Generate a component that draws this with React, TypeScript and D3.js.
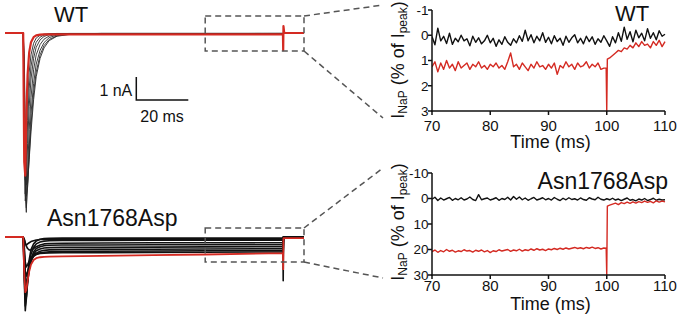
import React from 'react';
import * as d3 from 'd3';

// ---------------- DATA ----------------
// Left panels: whole-cell current traces (inward current in nA, positive = inward)
const wtTimes = [-7, 0, 0.4, 0.8, 1.2, 1.7, 2.3, 3, 4, 5, 6.5, 8, 10, 13, 18, 30, 99.9, 100, 100.1, 100.4, 108];
const wtTraceA = [0, 0, 4.5, 6.4, 4.6, 2.9, 1.7, 0.95, 0.45, 0.22, 0.1, 0.05, 0.03, 0.02, 0.02, 0.02, 0.02, 0.02, 0.02, 0, 0];
const wtTraceB = [0, 0, 3.8, 7.0, 5.6, 3.8, 2.4, 1.45, 0.75, 0.4, 0.18, 0.09, 0.05, 0.03, 0.02, 0.02, 0.02, 0.02, 0.02, 0, 0];
const wtTraceC = [0, 0, 3.0, 7.3, 6.6, 4.8, 3.2, 2.0, 1.1, 0.62, 0.3, 0.15, 0.07, 0.04, 0.03, 0.02, 0.02, 0.02, 0.02, 0, 0];
const wtTraceD = [0, 0, 2.4, 7.0, 7.8, 6.0, 4.2, 2.8, 1.6, 0.95, 0.5, 0.27, 0.13, 0.06, 0.03, 0.02, 0.02, 0.02, 0.02, 0, 0];
const wtTraceE = [0, 0, 1.8, 6.2, 7.6, 6.6, 5.0, 3.5, 2.2, 1.35, 0.75, 0.42, 0.2, 0.09, 0.04, 0.02, 0.02, 0.02, 0.02, 0, 0];
const wtTraceF = [0, 0, 1.3, 5.2, 7.1, 6.7, 5.4, 4.0, 2.6, 1.7, 0.95, 0.55, 0.28, 0.12, 0.05, 0.03, 0.02, 0.02, 0.02, 0, 0];
const wtTraceG = [0, 0, 0.9, 4.2, 6.6, 6.5, 5.5, 4.3, 2.9, 1.9, 1.1, 0.65, 0.33, 0.14, 0.06, 0.03, 0.02, 0.02, 0.02, 0, 0];
const wtTraceRed = [0, 0, 5.6, 6.2, 3.6, 1.8, 0.85, 0.4, 0.18, 0.1, 0.07, 0.06, 0.06, 0.06, 0.06, 0.06, 0.06, 0.75, -0.3, 0, 0];
const wtBlackTraces = [wtTraceA, wtTraceB, wtTraceC, wtTraceD, wtTraceE, wtTraceF, wtTraceG];

const mutTimes = [-7, 0, 0.4, 0.8, 1.2, 1.7, 2.3, 3, 4, 5, 6.5, 8, 10, 15, 30, 50, 70, 99.9, 100, 100.1, 100.4, 108];
const mutTrace1 = [0, 0, 1.8, 3.2, 2.6, 1.7, 1.0, 0.55, 0.3, 0.18, 0.1, 0.07, 0.06, 0.05, 0.05, 0.05, 0.05, 0.05, 1.9, 0.02, 0, 0];
const mutTrace2 = [0, 0, 1.5, 3.0, 2.7, 1.9, 1.2, 0.75, 0.45, 0.3, 0.22, 0.18, 0.16, 0.15, 0.15, 0.14, 0.14, 0.14, 0.6, 0.02, 0, 0];
const mutTrace3 = [0, 0, 0.1, 0.25, 0.4, 0.5, 0.56, 0.57, 0.5, 0.42, 0.35, 0.3, 0.28, 0.27, 0.26, 0.25, 0.25, 0.25, 0.25, 0, 0, 0];
const mutTrace4 = [0, 0, 1.2, 2.7, 2.6, 2.0, 1.4, 0.95, 0.65, 0.5, 0.42, 0.38, 0.36, 0.35, 0.35, 0.34, 0.34, 0.33, 0.5, 0, 0, 0];
const mutTrace5 = [0, 0, 1.0, 2.3, 2.3, 1.9, 1.4, 1.05, 0.75, 0.6, 0.52, 0.48, 0.46, 0.45, 0.45, 0.44, 0.43, 0.42, 0.6, 0, 0, 0];
const mutTrace6 = [0, 0, 0.8, 1.9, 2.0, 1.7, 1.35, 1.05, 0.82, 0.7, 0.62, 0.58, 0.56, 0.55, 0.54, 0.53, 0.52, 0.51, 0.7, 0, 0, 0];
const mutTrace7 = [0, 0, 0.6, 1.5, 1.7, 1.5, 1.25, 1.0, 0.84, 0.75, 0.69, 0.66, 0.64, 0.63, 0.62, 0.61, 0.6, 0.59, 0.8, 0, 0, 0];
const mutTrace8 = [0, 0, 0.4, 1.1, 1.3, 1.2, 1.05, 0.92, 0.82, 0.76, 0.72, 0.7, 0.69, 0.68, 0.68, 0.67, 0.66, 0.65, 0.9, 0, 0, 0];
const mutTrace9 = [0, 0, 0.1, 0.3, 0.35, 0.3, 0.25, 0.2, 0.16, 0.13, 0.11, 0.1, 0.1, 0.1, 0.1, 0.1, 0.1, 0.1, 0.1, 0, 0, 0];
const mutTraceRed = [0, 0, 1.6, 2.4, 2.3, 1.9, 1.5, 1.2, 1.0, 0.92, 0.88, 0.86, 0.85, 0.84, 0.82, 0.79, 0.76, 0.7, 1.4, 0.05, 0.05, 0.05];
const mutBlackTraces = [mutTrace1, mutTrace2, mutTrace3, mutTrace4, mutTrace5, mutTrace6, mutTrace7, mutTrace8, mutTrace9];

// Right panels: persistent current, % of peak, sampled every 0.5 ms from 70 to 110 ms
const zoomStart = 70;
const zoomStep = 0.5;
const wtZoomBlack = [
  0.05, 0.38, -0.28, 0.22, 0.04, 0.33, -0.08, 0.36, 0.12, 0.26,
  0.0, 0.22, 0.14, 0.42, 0.04, 0.28, 0.1, 0.34, 0.22, 0.0,
  0.3, 0.12, 0.44, 0.18, 0.36, 0.06, 0.28, 0.4, 0.14, 0.3,
  0.02, 0.24, -0.2, 0.22, -0.02, 0.3, 0.04, 0.22, -0.1, 0.28,
  0.08, 0.34, 0.02, 0.25, 0.12, 0.4, 0.04, 0.28, 0.1, -0.02,
  0.3, 0.12, 0.34, 0.04, 0.25, 0.06, 0.36, 0.14, 0.28, 0.02,
  0.22, 0.44, 0.06, 0.3, -0.1, 0.24, -0.32, 0.16, -0.14, 0.26,
  -0.2, 0.1, -0.08, 0.22, -0.26, 0.12, -0.1, 0.18, -0.18, 0.04,
  -0.04,
];
const wtZoomRed = [
  1.25, 1.05, 1.45, 1.1, 1.35, 1.0, 1.3, 1.15, 1.4, 1.05,
  1.3, 1.2, 1.1, 1.35, 1.15, 1.25, 1.05, 1.3, 1.2, 1.35,
  1.15, 1.25, 1.1, 1.3, 1.2, 1.35, 1.05, 0.7, 1.25, 1.15,
  1.35, 1.1, 1.25, 1.4, 1.15, 1.3, 1.05, 1.25, 1.2, 1.35,
  1.15, 1.3, 1.1, 1.55, 1.2, 1.3, 1.05, 1.25, 1.15, 1.35,
  1.1, 1.25, 1.2, 1.05, 1.3, 1.15, 1.25, 1.1, 1.35, 1.3,
  3.0, 0.9, 0.8, 0.7, 0.6, 0.65, 0.5, 0.55, 0.4, 0.5,
  0.3, 0.45, 0.25, 0.4, 0.35, 0.5, 0.25, 0.4, 0.2, 0.45,
  0.25,
];
const wtRedEdgeTimes = [99.9, 100.1];
const wtRedEdgeValues = [1.3, 0.95];

const mutZoomBlack = [
  0.3, -0.5, 0.8, -0.2, 0.6, 0.1, -0.4, 0.7, 0.0, 0.5,
  -0.3, 0.6, 0.2, -0.6, 0.4, 0.8, -1.5, 0.5, 0.1, -0.2,
  0.6, 0.2, -0.3, 0.7, 0.0, 0.4, -0.5, 0.6, -0.8, 0.3,
  -0.6, 0.5, -0.2, 0.7, 0.1, -0.4, 0.6, 0.2, -0.3, 0.5,
  0.0, 0.6, -0.4, 0.3, 0.8, -0.1, 0.5, -0.3, 0.4, 0.1,
  0.6, -0.2, 0.4, 0.7, -0.3, 0.2, 0.5, -0.5, 0.3, 0.6,
  0.1, 0.5, -0.1, 0.6, 0.2, 0.8, 0.3, -0.2, 0.7, 0.4,
  0.9, 0.2, 0.6, 0.0, 0.8, 0.4, -0.1, 0.7, 0.3, 0.6,
  0.5,
];
const mutZoomRed = [
  20.8, 20.2, 21.1, 20.4, 20.9, 20.0, 20.7, 20.3, 21.0, 20.5,
  20.8, 20.1, 20.6, 20.4, 21.0, 20.3, 20.7, 20.2, 20.9, 20.4,
  21.2, 20.5, 20.8, 20.1, 20.6, 20.3, 20.0, 20.7, 20.2, 20.5,
  19.9, 20.6, 20.1, 20.4, 19.8, 20.3, 19.7, 20.2, 19.9, 20.4,
  19.8, 20.1, 19.6, 20.0, 19.5, 19.9, 19.4, 19.8, 19.5, 19.2,
  19.6, 19.3, 19.7, 19.2, 19.5, 19.1, 19.6, 19.3, 19.8, 19.4,
  30.0, 2.6, 2.2, 1.8, 2.4, 1.6, 2.0, 1.4, 1.9, 1.3,
  1.8, 1.2, 1.6, 1.0, 1.5, 1.1, 1.7, 0.9, 1.4, 1.0,
  1.3,
];
const mutRedEdgeTimes = [99.9, 100.1];
const mutRedEdgeValues = [19.5, 3.0];

const timeTicks = [70, 80, 90, 100, 110];
const wtYTicks = [-1, 0, 1, 2, 3];
const mutYTicks = [-10, 0, 10, 20, 30];

// ---------------- STYLE / LAYOUT ----------------
const RED = '#d42a22';
const FONT = '"Liberation Sans", Arial, Helvetica, sans-serif';

const xL = d3.scaleLinear().domain([-7, 108]).range([5, 304]);
const yWT = d3.scaleLinear().domain([0, 8]).range([33, 217]);
const yMut = d3.scaleLinear().domain([0, 8]).range([237, 421]);

const xR = d3.scaleLinear().domain([70, 110]).range([432, 665]);
const yRT = d3.scaleLinear().domain([-1, 3]).range([10, 111]);
const yRB = d3.scaleLinear().domain([-10, 30]).range([173, 275]);

type Pt = [number, number];

function pairs(times: number[], vals: number[]): Pt[] {
  return times.map((t, i) => [t, vals[i]] as Pt);
}

function zoomSeries(vals: number[], edgeT: number[] = [], edgeV: number[] = []): Pt[] {
  const pts: Pt[] = vals.map((v, i) => [zoomStart + i * zoomStep, v] as Pt);
  edgeT.forEach((t, i) => pts.push([t, edgeV[i]]));
  pts.sort((a, b) => a[0] - b[0]);
  return pts;
}

function ZoomAxes({ y, ticks, labelBase, titleY, ylabelCY }: { y: d3.ScaleLinear<number, number>; ticks: number[]; labelBase: number; titleY: number; ylabelCY: number }) {
  const [y0, y1] = y.range();
  const x0 = xR.range()[0];
  const x1 = xR.range()[1];
  return (
    <g fontFamily={FONT} fill="#111">
      <line x1={x0} x2={x0} y1={y0} y2={y1 + 0.75} stroke="#111" strokeWidth={1.5} />
      <line x1={x0 - 0.75} x2={x1} y1={y1} y2={y1} stroke="#111" strokeWidth={1.5} />
      {ticks.map((t) => (
        <g key={'y' + t}>
          <line x1={x0 - 4} x2={x0} y1={y(t)} y2={y(t)} stroke="#111" strokeWidth={1.5} />
          <text x={x0 - 3.5} y={y(t)} dy="0.36em" textAnchor="end" fontSize={13.5}>{t}</text>
        </g>
      ))}
      {timeTicks.map((t) => (
        <g key={'x' + t}>
          <line x1={xR(t)} x2={xR(t)} y1={y1} y2={y1 + 4} stroke="#111" strokeWidth={1.5} />
          <text x={xR(t)} y={labelBase} textAnchor="middle" fontSize={15}>{t}</text>
        </g>
      ))}
      <text x={(x0 + x1) / 2 + 2} y={titleY} textAnchor="middle" fontSize={18}>Time (ms)</text>
      <text transform={`translate(404,${ylabelCY}) rotate(-90)`} textAnchor="middle" fontSize={18}>
        I<tspan fontSize={12} dy={3}>NaP</tspan>
        <tspan dy={-3}> (% of I</tspan>
        <tspan fontSize={12} dy={3}>peak</tspan>
        <tspan dy={-3}>)</tspan>
      </text>
    </g>
  );
}

export default function App() {
  const lineWT = d3.line<Pt>().x((d) => xL(d[0])).y((d) => yWT(d[1]));
  const lineMut = d3.line<Pt>().x((d) => xL(d[0])).y((d) => yMut(d[1]));
  const lineRT = d3.line<Pt>().x((d) => xR(d[0])).y((d) => yRT(d[1]));
  const lineRB = d3.line<Pt>().x((d) => xR(d[0])).y((d) => yRB(d[1]));

  const box1 = { x0: xL(70), x1: xL(108), y0: 16, y1: 51 };
  const box2 = { x0: xL(70), x1: xL(108), y0: 228, y1: 262 };
  const dash = { stroke: '#555', strokeWidth: 1.5, strokeDasharray: '6 4', fill: 'none' };

  // scale bar
  const sbT = 43.5;
  const sbI = 1.91;
  const sbX = xL(sbT);
  const sbX2 = xL(sbT + 20);
  const sbYTop = yWT(sbI);
  const sbYBot = yWT(sbI + 1);

  return (
    <div style={{ position: 'absolute', left: 0, top: 0, width: 680, height: 318, background: '#fff' }}>
      <svg width={680} height={318} viewBox="0 0 680 318" style={{ display: 'block' }}>
        <defs>
          <clipPath id="clipRT">
            <rect x={xR(70)} y={yRT(-1) - 2} width={xR(110) - xR(70) + 2} height={yRT(3) - yRT(-1) + 2} />
          </clipPath>
          <clipPath id="clipRB">
            <rect x={xR(70)} y={yRB(-10) - 2} width={xR(110) - xR(70) + 2} height={yRB(30) - yRB(-10) + 2} />
          </clipPath>
        </defs>
        <rect width={680} height={318} fill="#fff" />

        {/* WT raw traces */}
        <g fill="none" strokeLinejoin="round">
          {wtBlackTraces.map((tr, i) => (
            <path key={i} d={lineWT(pairs(wtTimes, tr)) || ''} stroke="#2a2a2a" strokeWidth={0.9} />
          ))}
          <path d={lineWT(pairs(wtTimes, wtTraceRed)) || ''} stroke={RED} strokeWidth={2.2} />
        </g>

        {/* Mutant raw traces */}
        <g fill="none" strokeLinejoin="round">
          {mutBlackTraces.map((tr, i) => (
            <path key={i} d={lineMut(pairs(mutTimes, tr)) || ''} stroke="#111" strokeWidth={1.6} />
          ))}
          <path d={lineMut(pairs(mutTimes, mutTraceRed)) || ''} stroke={RED} strokeWidth={1.8} />
        </g>

        {/* dashed zoom boxes and connectors */}
        <rect x={box1.x0} y={box1.y0} width={box1.x1 - box1.x0} height={box1.y1 - box1.y0} {...dash} />
        <line x1={box1.x1} y1={box1.y0} x2={383} y2={5} {...dash} />
        <line x1={box1.x1} y1={box1.y1} x2={383} y2={118} {...dash} />
        <rect x={box2.x0} y={box2.y0} width={box2.x1 - box2.x0} height={box2.y1 - box2.y0} {...dash} />
        <line x1={box2.x1} y1={box2.y0} x2={383} y2={168} {...dash} />
        <line x1={box2.x1} y1={box2.y1} x2={383} y2={278} {...dash} />

        {/* scale bar */}
        <path d={`M${sbX},${sbYTop}V${sbYBot}H${sbX2}`} fill="none" stroke="#111" strokeWidth={1.5} />
        <text x={sbX - 4} y={96} textAnchor="end" fontFamily={FONT} fontSize={16} fill="#111">1 nA</text>
        <text x={sbX + 4} y={122} fontFamily={FONT} fontSize={16} fill="#111">20 ms</text>

        {/* left labels */}
        <text x={54} y={22} fontFamily={FONT} fontSize={22} fill="#111">WT</text>
        <text x={47} y={226} fontFamily={FONT} fontSize={23} fill="#111">Asn1768Asp</text>

        {/* right top zoom */}
        <g clipPath="url(#clipRT)" fill="none" strokeLinejoin="round">
          <path d={lineRT(zoomSeries(wtZoomBlack)) || ''} stroke="#111" strokeWidth={1.4} />
          <path d={lineRT(zoomSeries(wtZoomRed, wtRedEdgeTimes, wtRedEdgeValues)) || ''} stroke={RED} strokeWidth={1.4} />
        </g>
        <ZoomAxes y={yRT} ticks={wtYTicks} labelBase={131} titleY={148} ylabelCY={60} />
        <text x={615} y={21} fontFamily={FONT} fontSize={22} fill="#111">WT</text>

        {/* right bottom zoom */}
        <g clipPath="url(#clipRB)" fill="none" strokeLinejoin="round">
          <path d={lineRB(zoomSeries(mutZoomBlack)) || ''} stroke="#111" strokeWidth={1.4} />
          <path d={lineRB(zoomSeries(mutZoomRed, mutRedEdgeTimes, mutRedEdgeValues)) || ''} stroke={RED} strokeWidth={1.4} />
        </g>
        <ZoomAxes y={yRB} ticks={mutYTicks} labelBase={291} titleY={309.5} ylabelCY={222} />
        <text x={668} y={189} textAnchor="end" fontFamily={FONT} fontSize={23} fill="#111">Asn1768Asp</text>
      </svg>
    </div>
  );
}
